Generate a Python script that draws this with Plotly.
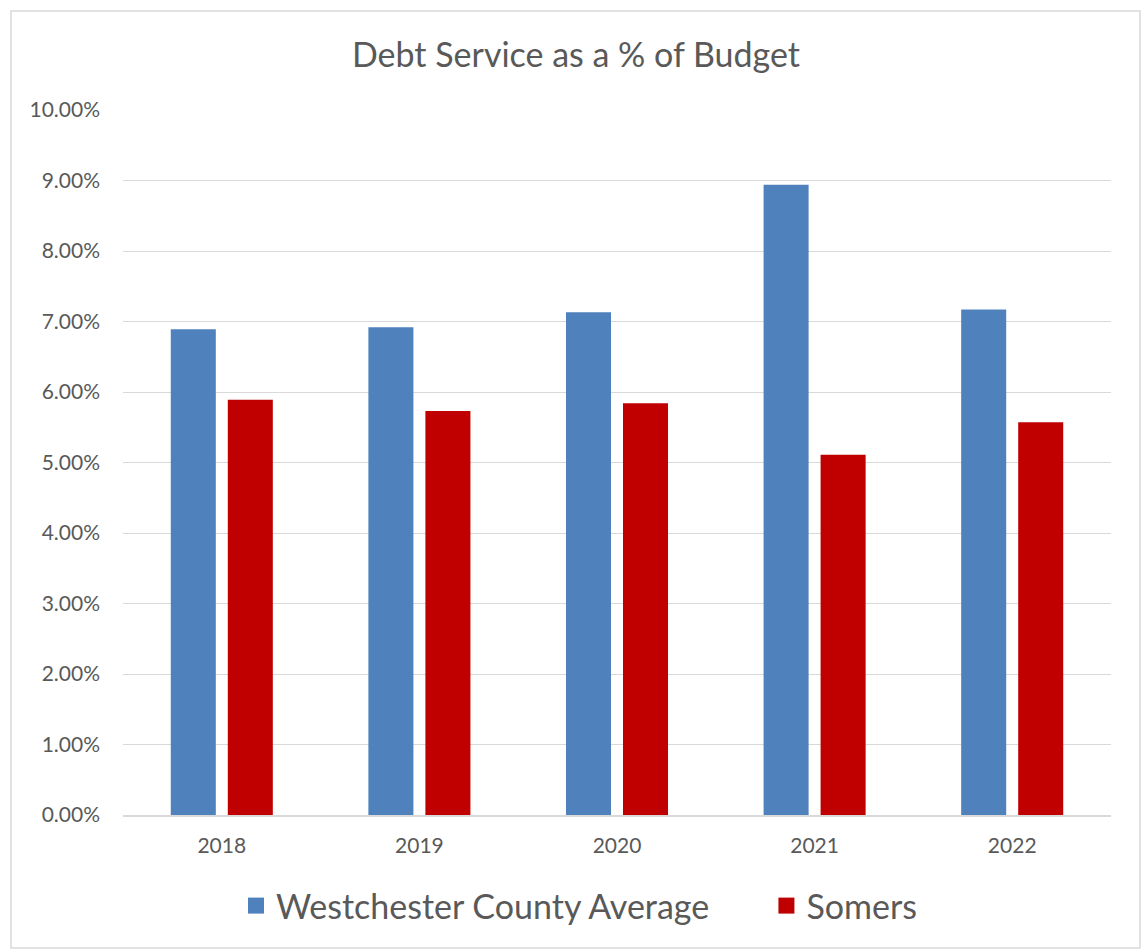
import plotly.graph_objects as go

years = ["2018", "2019", "2020", "2021", "2022"]
westchester = [0.0689, 0.0692, 0.0713, 0.0894, 0.0717]
somers = [0.0589, 0.0573, 0.0584, 0.0511, 0.0557]
series_names = ["Westchester County Average", "Somers"]
colors = ["#4f81bd", "#c00000"]
y_ticks = [i / 100 for i in range(0, 11)]
y_tick_labels = [f"{i:.2f}%" for i in range(0, 11)]

FONT = "Lato, 'Open Sans', sans-serif"
GREY = "#595959"

fig = go.Figure()
for name, vals, col in zip(series_names, [westchester, somers], colors):
    fig.add_trace(go.Bar(
        x=years, y=vals, name=name, showlegend=False,
        marker=dict(color=col, line=dict(color=col, width=0)),
    ))
legend_labels = [series_names[0] + "\u00a0" * 6, series_names[1]]
for name, col in zip(legend_labels, colors):
    fig.add_trace(go.Scatter(
        x=[None], y=[None], name=name, mode="markers",
        marker=dict(symbol="square", size=16, color=col),
    ))

L, R, T, B = 123, 34, 110, 135
W, H = 1145, 950
pw, ph = W - L - R, H - T - B

fig.update_layout(
    width=W, height=H,
    margin=dict(l=L, r=R, t=T, b=B, autoexpand=False),
    paper_bgcolor="white", plot_bgcolor="white",
    barmode="group", bargap=0.423, bargroupgap=0.21,
    title=dict(text="Debt Service as a % of Budget", x=(576 - L) / pw, xref="paper",
               xanchor="center", y=1 - 55 / H, yanchor="middle",
               font=dict(family=FONT, size=34, color=GREY)),
    font=dict(family=FONT, color=GREY),
    legend=dict(orientation="h", x=(579 - L) / pw, xanchor="center",
                y=(815 - 906) / ph, yanchor="middle",
                font=dict(family=FONT, size=34, color=GREY),
                itemsizing="trace", itemwidth=30),
    xaxis=dict(type="category", categoryorder="array", categoryarray=years,
               showgrid=False, showline=True, linecolor="#d9d9d9", linewidth=1.5,
               ticks="", tickfont=dict(family=FONT, size=21, color=GREY),
               ticklabelstandoff=11),
    yaxis=dict(range=[0, 0.1], tickvals=y_ticks, ticktext=y_tick_labels,
               showgrid=True, gridcolor="#d9d9d9", gridwidth=1,
               zeroline=False, showline=False, ticks="",
               tickfont=dict(family=FONT, size=21, color=GREY),
               ticklabelstandoff=22),
    shapes=[dict(type="rect", xref="paper", yref="paper",
                 x0=(11 - L) / pw, x1=(1140 - L) / pw,
                 y0=(815 - 948) / ph, y1=(815 - 11) / ph,
                 line=dict(color="#d9d9d9", width=1.5), fillcolor="rgba(0,0,0,0)",
                 layer="below")],
)

fig.write_html("out.html")
